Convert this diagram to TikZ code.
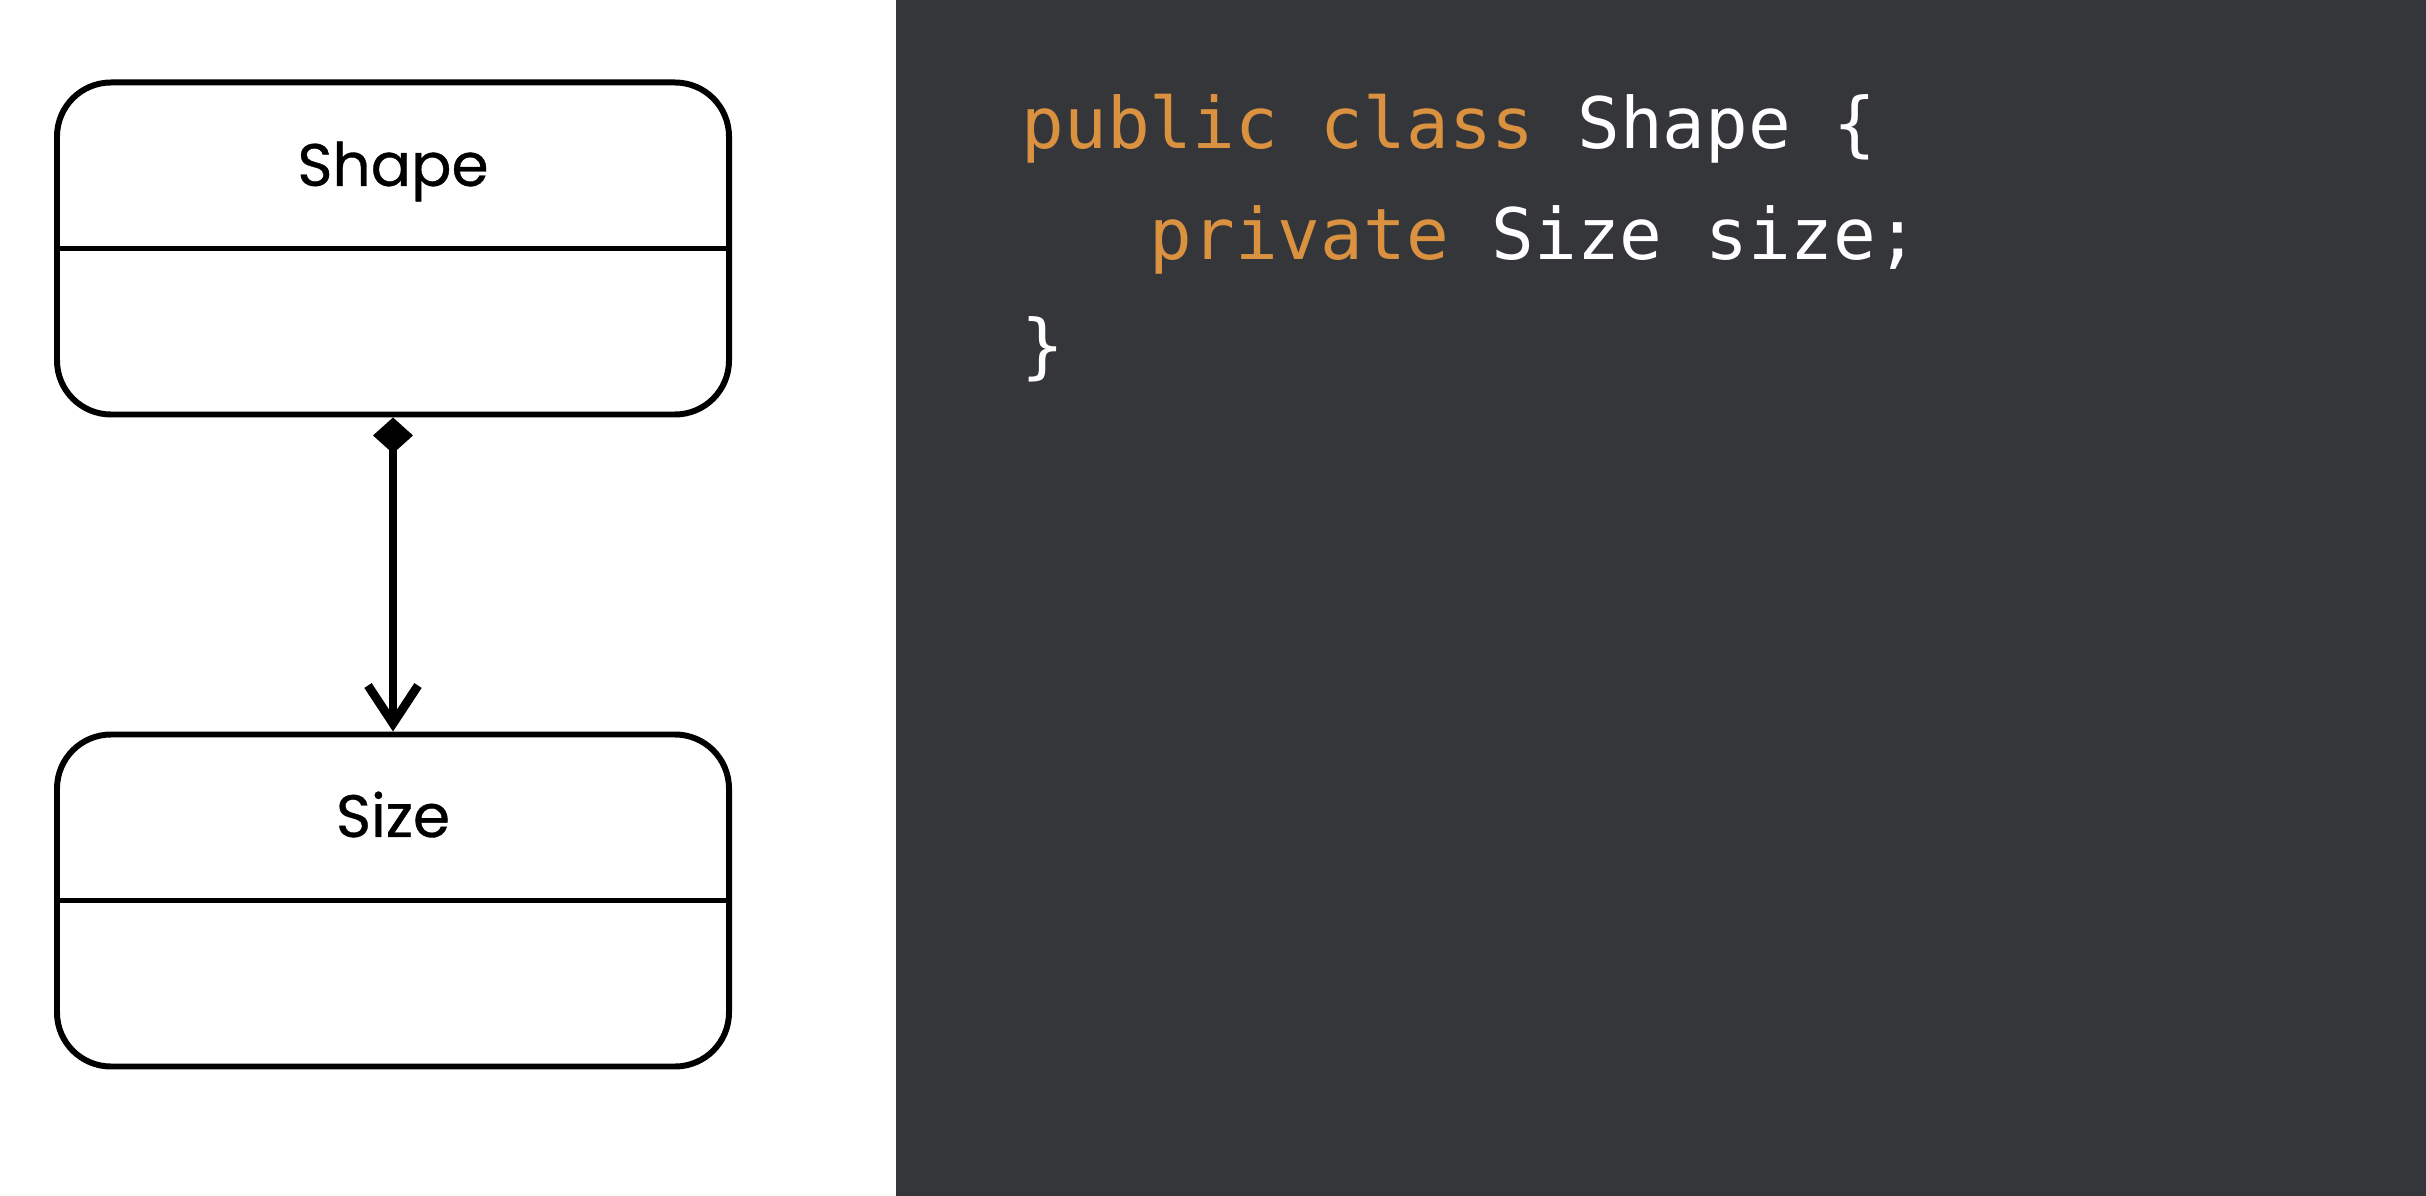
\documentclass[tikz,border=0pt]{standalone}
\usepackage{fontspec}
\usetikzlibrary{arrows.meta,positioning}
\newfontfamily\umlfont{Poppins}[FakeBold=0.6]
\newfontfamily\codefont{DejaVu Sans Mono}
\definecolor{codebg}{HTML}{35363A}
\definecolor{keyword}{HTML}{DB9240}

\begin{document}
\begin{tikzpicture}[
    classbox/.style={draw, line width=1.7pt, rounded corners=0.54cm, minimum width=6.72cm, minimum height=3.32cm},
    classname/.style={font=\umlfont\fontsize{17}{20}\selectfont, inner sep=0pt},
    codeline/.style={font=\codefont\fontsize{20.2}{24}\selectfont, text=white, anchor=base west, inner sep=0pt},
    composes/.style={line width=2.5pt, {Diamond[length=3.6mm,width=4mm]}-{Straight Barb[length=3.8mm,width=5mm]}}
]
\useasboundingbox (0,0) rectangle (24.26,-11.96);
\fill[codebg] (8.96,0) rectangle (24.26,-11.96);

% class boxes
\node[classbox] (shape) at (3.93,-2.485) {};
\node[classbox] (size) at (3.93,-9.005) {};
\draw[line width=1.7pt] (shape.west) -- (shape.east);
\draw[line width=1.7pt] (size.west) -- (size.east);
\node[classname] (shapename) at ([yshift=-0.92cm]shape.north) {Shape};
\node[classname] (sizename) at ([yshift=-0.83cm]size.north) {Size};
\draw[composes] (shape) -- (size);

% code
\node[codeline] (line1) at (10.21,-1.485) {\textcolor{keyword}{public class} Shape \{};
\node[codeline] (line2) at (11.49,-2.60) {\textcolor{keyword}{private} Size size;};
\node[codeline] (line3) at (10.21,-3.71) {\}};
\end{tikzpicture}
\end{document}
